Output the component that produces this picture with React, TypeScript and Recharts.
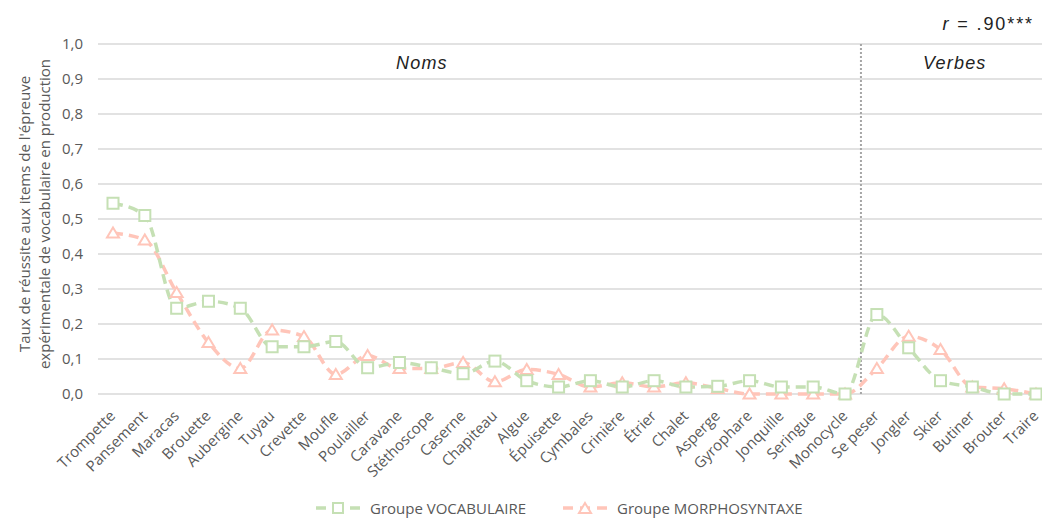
import {
  CartesianGrid,
  Legend,
  Line,
  LineChart,
  ReferenceLine,
  XAxis,
  YAxis,
} from 'recharts'

const CATEGORIES = [
  'Trompette', 'Pansement', 'Maracas', 'Brouette', 'Aubergine', 'Tuyau',
  'Crevette', 'Moufle', 'Poulailler', 'Caravane', 'Stéthoscope', 'Caserne',
  'Chapiteau', 'Algue', 'Épuisette', 'Cymbales', 'Crinière', 'Étrier',
  'Chalet', 'Asperge', 'Gyrophare', 'Jonquille', 'Seringue', 'Monocycle',
  'Se peser', 'Jongler', 'Skier', 'Butiner', 'Brouter', 'Traire',
]

const VOCABULAIRE = [
  0.545, 0.51, 0.245, 0.265, 0.245, 0.135, 0.135, 0.15, 0.075, 0.09,
  0.075, 0.058, 0.094, 0.038, 0.02, 0.038, 0.02, 0.038, 0.02, 0.022,
  0.038, 0.02, 0.02, 0, 0.227, 0.132, 0.038, 0.02, 0, 0,
]

const MORPHOSYNTAXE = [
  0.46, 0.44, 0.29, 0.147, 0.073, 0.183, 0.164, 0.056, 0.11, 0.073,
  0.073, 0.09, 0.035, 0.07, 0.056, 0.02, 0.032, 0.02, 0.032, 0.016,
  0, 0, 0, 0, 0.073, 0.165, 0.127, 0.02, 0.015, 0,
]

const Y_TICKS = [0, 0.1, 0.2, 0.3, 0.4, 0.5, 0.6, 0.7, 0.8, 0.9, 1]

const GREEN = '#c5e0b4'
const PINK = '#ffc5b9'
const TEXT = '#595959'
const FONT = '"Open Sans", sans-serif'

const data = CATEGORIES.map((name, i) => ({
  name,
  idx: i,
  vocab: VOCABULAIRE[i],
  morpho: MORPHOSYNTAXE[i],
}))

function SquareDot(props: any) {
  const { cx, cy, index } = props
  return (
    <rect key={`sq-${index}`} x={cx - 5.5} y={cy - 5.5} width={11} height={11}
      fill="#fff" stroke={GREEN} strokeWidth={2} />
  )
}

function TriangleDot(props: any) {
  const { cx, cy, index } = props
  const pts = `${cx},${cy - 5.5} ${cx + 6},${cy + 4.5} ${cx - 6},${cy + 4.5}`
  return <polygon key={`tr-${index}`} points={pts} fill="#fff" stroke={PINK} strokeWidth={2} />
}

// rotated category labels, ending just under each point
function XTick(props: any) {
  const { x, y, payload } = props
  const tx = x + 0.5
  const ty = y + 12
  return (
    <text x={tx} y={ty} transform={`rotate(-45 ${tx} ${ty})`} textAnchor="end"
      dominantBaseline="middle" fill={TEXT} fontSize={15} fontFamily={FONT}>
      {payload.value}
    </text>
  )
}

function YTitle() {
  return (
    <text transform="translate(0 214) rotate(-90)" textAnchor="middle" fill={TEXT}
      fontSize={15} fontFamily={FONT}>
      <tspan x={0} y={30}>Taux de réussite aux items de l'épreuve</tspan>
      <tspan x={0} y={50}>expérimentale de vocabulaire en production</tspan>
    </text>
  )
}

function LegendIcon({ color, shape }: { color: string; shape: 'square' | 'triangle' }) {
  return (
    <svg width={47} height={14} style={{ marginRight: 8 }}>
      <line x1={1} y1={7} x2={46} y2={7} stroke={color} strokeWidth={3.5} strokeDasharray="10 7" />
      {shape === 'square' ? (
        <rect x={18} y={2} width={10} height={10} fill="#fff" stroke={color} strokeWidth={2} />
      ) : (
        <polygon points="23,2 29,12 17,12" fill="#fff" stroke={color} strokeWidth={2} />
      )}
    </svg>
  )
}

function ChartLegend() {
  const item: React.CSSProperties = { position: 'absolute', top: 5, display: 'flex', alignItems: 'center' }
  return (
    <div style={{ position: 'relative', height: 30, fontFamily: FONT, fontSize: 15, color: TEXT }}>
      <div style={{ ...item, left: 315 }}>
        <LegendIcon color={GREEN} shape="square" />
        <span>Groupe VOCABULAIRE</span>
      </div>
      <div style={{ ...item, left: 562 }}>
        <LegendIcon color={PINK} shape="triangle" />
        <span>Groupe MORPHOSYNTAXE</span>
      </div>
    </div>
  )
}

const note: React.CSSProperties = {
  position: 'absolute',
  fontFamily: '"Liberation Sans", Arial, sans-serif',
  fontSize: 18,
  letterSpacing: 1.2,
  color: '#222',
  whiteSpace: 'nowrap',
  lineHeight: '20px',
}

export default function App() {
  return (
    <div style={{ position: 'absolute', left: 0, top: 0, width: 1042, height: 523, background: '#fff' }}>
      <LineChart width={1042} height={523} data={data}
        margin={{ top: 44, right: 0, left: 0, bottom: 0 }}>
        <CartesianGrid vertical={false} stroke="#d9d9d9" strokeWidth={1.3} />
        <XAxis dataKey="name" interval={0} tick={<XTick />} tickLine={false}
          axisLine={false} height={99} padding={{ left: 15, right: 6 }} />
        <XAxis xAxisId="idx" dataKey="idx" type="number" domain={[0, 29]} hide
          padding={{ left: 15, right: 6 }} />
        <YAxis domain={[0, 1]} ticks={Y_TICKS} width={98} axisLine={false} tickLine={false}
          tickMargin={9} interval={0}
          tick={{ fill: TEXT, fontSize: 15, fontFamily: FONT }}
          tickFormatter={(v: number) => v.toFixed(1).replace('.', ',')}
          label={<YTitle />} />
        <ReferenceLine xAxisId="idx" x={23.5} stroke="#a6a6a6" strokeWidth={2} strokeDasharray="2 2" />
        <Legend verticalAlign="bottom" content={<ChartLegend />} />
        <Line type="monotone" dataKey="morpho" stroke={PINK} strokeWidth={3.5}
          strokeDasharray="10 6" dot={<TriangleDot />} isAnimationActive={false} />
        <Line type="monotone" dataKey="vocab" stroke={GREEN} strokeWidth={3.5}
          strokeDasharray="10 6" dot={<SquareDot />} isAnimationActive={false} />
      </LineChart>
      <div style={{ ...note, right: 8, top: 14, letterSpacing: 1.9 }}>
        <i>r</i> = .90***
      </div>
      <div style={{ ...note, left: 396, top: 53, fontStyle: 'italic' }}>Noms</div>
      <div style={{ ...note, left: 923, top: 53, fontStyle: 'italic' }}>Verbes</div>
    </div>
  )
}
